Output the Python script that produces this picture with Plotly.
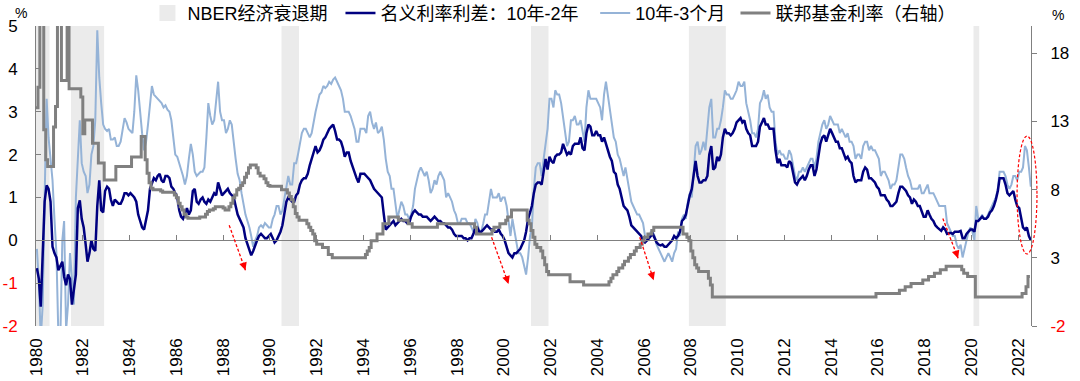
import pandas as pd
import plotly.graph_objects as go

# ---------------- data (monthly, Jan 1980 - Jul 2022) ----------------
start_month = "1980-01-01"
end_month = "2022-07-01"

# 名义利率利差：10年-2年 (%)
spread_10y2y = [
    -0.65, -0.9, -1.55, -0.5, 0.9, 1.28, 1.2, 0.9, -0.15, -0.3, -0.4, -0.7,      # 1980
    -0.6, -0.5, -0.85, -1.05, -0.8, -0.9, -1.5, -1.2, -0.8, 0.75, 0.93, 0.5,      # 1981
    0.3, -0.1, -0.5, -0.3, 0.0, -0.2, -0.25, 0.8, 1.4, 0.7, 0.65, 1.15,           # 1982
    1.25, 1.2, 0.95, 0.8, 0.95, 0.9, 0.85, 0.85, 0.95, 1.1, 1.1, 1.05,            # 1983
    1.1, 1.05, 1.0, 0.9, 0.6, 0.45, 0.3, 0.25, 0.45, 0.7, 1.2, 1.35,              # 1984
    1.45, 1.4, 1.5, 1.55, 1.4, 1.35, 1.5, 1.5, 1.45, 1.25, 1.2, 1.1,              # 1985
    1.0, 0.7, 0.55, 0.5, 0.65, 0.75, 0.6, 0.7, 1.15, 1.2, 0.9, 0.85,              # 1986
    0.95, 1.0, 0.9, 0.85, 0.95, 0.9, 1.0, 1.1, 1.05, 1.35, 1.2, 1.05,             # 1987
    1.1, 1.15, 1.2, 1.1, 1.05, 1.0, 0.8, 0.6, 0.5, 0.4, 0.3, 0.05,                # 1988
    -0.1, -0.2, -0.35, -0.25, -0.1, 0.0, 0.1, 0.15, 0.1, 0.05, 0.05, 0.1,         # 1989
    0.15, 0.05, -0.05, 0.0, 0.1, 0.2, 0.35, 0.6, 0.9, 1.0, 0.95, 0.9,             # 1990
    0.9, 1.05, 1.1, 1.3, 1.4, 1.45, 1.45, 1.55, 1.75, 1.9, 2.1, 2.2,              # 1991
    2.05, 2.1, 2.2, 2.35, 2.4, 2.5, 2.6, 2.65, 2.7, 2.55, 2.35, 2.35,             # 1992
    2.3, 2.15, 1.95, 2.05, 2.05, 1.85, 1.7, 1.6, 1.45, 1.35, 1.55, 1.55,          # 1993
    1.55, 1.5, 1.45, 1.4, 1.3, 1.2, 1.15, 1.1, 1.05, 1.0, 0.6, 0.25,              # 1994
    0.3, 0.35, 0.4, 0.45, 0.35, 0.4, 0.45, 0.5, 0.45, 0.45, 0.4, 0.4,             # 1995
    0.55, 0.65, 0.7, 0.65, 0.6, 0.6, 0.55, 0.55, 0.55, 0.5, 0.45, 0.5,            # 1996
    0.55, 0.5, 0.45, 0.45, 0.4, 0.4, 0.35, 0.3, 0.3, 0.25, 0.15, 0.1,             # 1997
    0.1, 0.1, 0.1, 0.05, 0.05, 0.0, 0.05, 0.05, 0.15, 0.3, 0.3, 0.2,              # 1998
    0.2, 0.25, 0.3, 0.35, 0.3, 0.25, 0.25, 0.2, 0.2, 0.25, 0.15, 0.1,             # 1999
    0.0, -0.15, -0.3, -0.35, -0.4, -0.3, -0.3, -0.25, -0.2, -0.1, 0.0, 0.2,       # 2000
    0.5, 0.65, 0.8, 1.1, 1.3, 1.35, 1.35, 1.3, 1.6, 1.9, 1.65, 1.95,              # 2001
    1.85, 1.8, 1.95, 2.0, 2.0, 2.05, 2.25, 2.1, 2.0, 2.05, 2.0, 2.2,              # 2002
    2.25, 2.25, 2.25, 2.4, 2.15, 2.1, 2.5, 2.7, 2.65, 2.45, 2.45, 2.55,           # 2003
    2.45, 2.45, 2.3, 2.4, 2.25, 2.05, 1.95, 1.85, 1.6, 1.55, 1.3, 1.2,            # 2004
    1.0, 0.8, 0.75, 0.7, 0.55, 0.35, 0.3, 0.25, 0.2, 0.15, 0.1, 0.0,              # 2005
    -0.05, 0.0, 0.05, 0.1, 0.15, 0.05, -0.05, -0.1, -0.12, -0.1, -0.15, -0.15,    # 2006
    -0.1, -0.05, 0.0, 0.1, 0.05, 0.1, 0.2, 0.45, 0.5, 0.6, 0.85, 1.05,            # 2007
    1.2, 1.5, 1.85, 1.5, 1.35, 1.35, 1.4, 1.4, 1.5, 2.0, 2.2, 1.65,               # 2008
    1.7, 1.95, 1.85, 2.0, 2.4, 2.6, 2.5, 2.5, 2.45, 2.5, 2.6, 2.75,               # 2009
    2.8, 2.85, 2.75, 2.8, 2.6, 2.5, 2.45, 2.2, 2.2, 2.2, 2.3, 2.65,               # 2010
    2.75, 2.85, 2.7, 2.7, 2.6, 2.6, 2.6, 2.1, 1.8, 1.9, 1.75, 1.75,               # 2011
    1.75, 1.7, 1.85, 1.8, 1.55, 1.35, 1.3, 1.4, 1.45, 1.5, 1.4, 1.5,              # 2012
    1.65, 1.75, 1.75, 1.5, 1.65, 1.95, 2.25, 2.4, 2.45, 2.3, 2.45, 2.6,           # 2013
    2.5, 2.4, 2.3, 2.3, 2.15, 2.15, 2.0, 1.9, 1.95, 1.85, 1.8, 1.5,               # 2014
    1.35, 1.4, 1.4, 1.4, 1.6, 1.7, 1.65, 1.45, 1.45, 1.4, 1.35, 1.25,             # 2015
    1.2, 1.05, 1.05, 1.05, 0.95, 0.9, 0.8, 0.8, 0.85, 0.9, 1.1, 1.25,             # 2016
    1.25, 1.2, 1.15, 1.05, 1.0, 0.85, 0.95, 0.9, 0.8, 0.8, 0.65, 0.55,            # 2017
    0.55, 0.7, 0.6, 0.5, 0.45, 0.35, 0.3, 0.25, 0.22, 0.3, 0.25, 0.15,            # 2018
    0.17, 0.17, 0.15, 0.2, 0.2, 0.2, 0.22, 0.05, 0.05, 0.15, 0.2, 0.25,           # 2019
    0.25, 0.2, 0.45, 0.45, 0.5, 0.55, 0.5, 0.5, 0.55, 0.65, 0.7, 0.8,             # 2020
    0.95, 1.15, 1.45, 1.45, 1.45, 1.3, 1.1, 1.05, 1.1, 1.15, 0.95, 0.8,           # 2021
    0.75, 0.55, 0.3, 0.25, 0.3, 0.1, 0.0,                                         # 2022
]

# 10年-3个月 (%)
spread_10y3m = [
    -0.2, -1.0, -2.3, -1.5, 1.0, 3.3, 2.4, 1.8, 1.4, 0.5, -0.3, -2.2,             # 1980
    -2.3, 0.0, 0.45, -2.1, -1.5, -0.3, -1.0, -1.5, 1.0, 2.0, 2.8, 1.8,            # 1981
    1.6, 1.5, 1.1, 1.3, 2.0, 2.2, 2.8, 4.9, 3.8, 3.2, 2.7, 2.6,                   # 1982
    2.55, 2.6, 2.35, 2.35, 2.4, 2.2, 2.2, 2.3, 2.6, 2.85, 2.75, 2.6,              # 1983
    2.55, 2.5, 3.0, 3.85, 3.5, 2.9, 2.5, 2.1, 2.3, 2.7, 3.2, 3.6,                 # 1984
    3.4, 3.35, 3.3, 3.25, 3.2, 3.1, 3.15, 3.05, 3.0, 2.8, 2.3, 2.0,               # 1985
    1.95, 1.8, 1.65, 1.5, 1.3, 1.5, 1.9, 2.25, 2.0, 1.6, 1.5, 1.55,               # 1986
    1.6, 1.6, 1.7, 2.4, 3.2, 2.9, 2.7, 2.8, 3.2, 3.7, 3.0, 2.8,                   # 1987
    2.8, 2.5, 2.6, 2.8, 2.7, 2.2, 1.9, 1.55, 1.4, 1.1, 0.8, 0.6,                  # 1988
    0.45, 0.3, 0.1, -0.15, 0.0, 0.1, 0.3, 0.35, 0.3, 0.4, 0.35, 0.3,              # 1989
    0.3, 0.5, 0.6, 0.8, 0.8, 0.6, 0.7, 1.0, 1.3, 1.5, 1.3, 1.3,                   # 1990
    1.8, 1.8, 2.0, 2.3, 2.5, 2.6, 2.6, 2.5, 2.4, 2.5, 2.8, 3.0,                   # 1991
    3.2, 3.4, 3.45, 3.6, 3.55, 3.6, 3.7, 3.65, 3.75, 3.8, 3.7, 3.6,               # 1992
    3.5, 3.3, 3.0, 3.0, 3.0, 2.9, 2.75, 2.6, 2.3, 2.3, 2.6, 2.6,                  # 1993
    2.6, 2.5, 2.9, 3.0, 2.75, 2.6, 2.75, 2.5, 2.55, 2.65, 2.35, 1.9,              # 1994
    1.6, 1.5, 1.2, 1.2, 0.8, 0.5, 0.7, 0.9, 0.8, 0.6, 0.6, 0.5,                   # 1995
    0.6, 0.8, 1.2, 1.4, 1.6, 1.7, 1.6, 1.5, 1.6, 1.4, 1.1, 1.2,                   # 1996
    1.4, 1.3, 1.5, 1.6, 1.5, 1.4, 1.0, 1.1, 1.0, 0.9, 0.7, 0.6,                   # 1997
    0.4, 0.4, 0.5, 0.5, 0.5, 0.4, 0.4, 0.3, 0.2, 0.5, 0.4, 0.2,                   # 1998
    0.2, 0.4, 0.6, 0.6, 0.9, 1.2, 1.0, 1.0, 1.0, 1.1, 0.9, 1.0,                   # 1999
    1.0, 0.8, 0.4, 0.1, 0.5, 0.2, 0.0, -0.3, -0.3, -0.4, -0.6, -0.8,              # 2000
    -0.4, 0.1, 0.3, 1.2, 1.7, 1.8, 1.8, 1.5, 1.9, 2.3, 2.6, 3.3,                  # 2001
    3.3, 3.1, 3.5, 3.4, 3.4, 3.2, 2.9, 2.6, 2.2, 2.3, 2.8, 2.8,                   # 2002
    2.9, 2.7, 2.7, 2.8, 2.5, 2.3, 3.1, 3.5, 3.3, 3.3, 3.3, 3.3,                   # 2003
    3.2, 3.1, 2.8, 3.4, 3.7, 3.4, 3.1, 2.8, 2.4, 2.3, 2.0, 1.9,                   # 2004
    1.7, 1.5, 1.7, 1.4, 1.2, 0.9, 0.8, 0.7, 0.6, 0.6, 0.5, 0.4,                   # 2005
    0.1, 0.0, 0.0, 0.2, 0.2, 0.1, -0.1, -0.2, -0.3, -0.4, -0.5, -0.4,             # 2006
    -0.3, -0.4, -0.5, -0.3, -0.2, 0.2, 0.1, 0.5, 0.6, 0.5, 0.9, 1.1,              # 2007
    1.0, 1.6, 2.2, 2.3, 2.0, 2.1, 2.3, 2.1, 2.7, 3.1, 3.3, 2.4,                   # 2008
    2.4, 2.6, 2.6, 2.8, 3.1, 3.5, 3.4, 3.4, 3.3, 3.3, 3.4, 3.5,                   # 2009
    3.7, 3.6, 3.6, 3.7, 3.2, 3.0, 2.8, 2.5, 2.5, 2.4, 2.6, 3.2,                   # 2010
    3.3, 3.5, 3.3, 3.4, 3.1, 3.0, 3.0, 2.3, 2.0, 2.1, 2.0, 2.0,                   # 2011
    1.9, 1.9, 2.1, 2.0, 1.7, 1.5, 1.4, 1.6, 1.6, 1.7, 1.6, 1.7,                   # 2012
    1.8, 1.9, 1.9, 1.7, 1.9, 2.3, 2.5, 2.7, 2.8, 2.6, 2.7, 2.9,                   # 2013
    2.8, 2.7, 2.7, 2.7, 2.5, 2.6, 2.5, 2.4, 2.5, 2.3, 2.3, 2.2,                   # 2014
    1.9, 2.0, 2.0, 1.9, 2.2, 2.3, 2.3, 2.1, 2.2, 2.1, 2.1, 2.0,                   # 2015
    1.9, 1.5, 1.6, 1.6, 1.5, 1.4, 1.2, 1.3, 1.3, 1.4, 1.7, 2.0,                   # 2016
    2.0, 1.9, 1.7, 1.5, 1.4, 1.2, 1.2, 1.2, 1.2, 1.3, 1.1, 1.1,                   # 2017
    1.2, 1.3, 1.1, 1.1, 1.1, 1.0, 0.9, 0.8, 0.8, 0.8, 0.8, 0.4,                   # 2018
    0.3, 0.2, 0.1, 0.1, -0.1, -0.2, -0.1, -0.4, -0.2, 0.0, 0.2, 0.3,              # 2019
    0.2, 0.0, 0.8, 0.5, 0.5, 0.6, 0.5, 0.5, 0.6, 0.7, 0.8, 0.9,                   # 2020
    1.0, 1.2, 1.6, 1.6, 1.6, 1.5, 1.3, 1.2, 1.3, 1.5, 1.5, 1.4,                   # 2021
    1.6, 1.6, 1.7, 2.2, 2.1, 1.7, 1.25,                                           # 2022
]

# 联邦基金利率 (%, right axis)
fed_funds = [
    14.0, 15.5, 21.0, 21.0, 12.4, 10.2, 9.7, 9.7, 9.7, 12.6, 14.1, 21.0,          # 1980
    21.0, 16.0, 16.0, 16.0, 21.0, 15.4, 15.4, 15.4, 15.4, 15.4, 15.4, 14.8,       # 1981
    12.1, 13.1, 13.1, 13.1, 13.1, 11.4, 11.4, 11.4, 9.95, 9.95, 9.95, 8.7,        # 1982
    8.7, 8.7, 8.7, 8.7, 8.7, 9.7, 9.7, 9.7, 9.7, 9.7, 9.7, 9.7,                   # 1983
    9.7, 10.4, 10.4, 10.4, 10.4, 10.4, 11.9, 11.9, 10.2, 9.2, 8.5, 8.1,           # 1984
    8.0, 8.0, 8.0, 8.0, 7.9, 7.8, 7.8, 7.8, 7.8, 7.8, 7.8, 7.6,                   # 1985
    7.4, 7.0, 6.75, 6.5, 6.2, 6.0, 5.9, 5.9, 5.9, 5.9, 5.9, 5.9,                  # 1986
    6.0, 6.0, 6.0, 6.2, 6.4, 6.5, 6.5, 6.6, 6.75, 6.75, 6.75, 6.75,               # 1987
    6.65, 6.5, 6.5, 6.75, 7.0, 7.4, 7.6, 8.0, 8.1, 8.3, 8.5, 8.9,                 # 1988
    9.2, 9.6, 9.8, 9.8, 9.8, 9.6, 9.2, 9.0, 9.0, 8.8, 8.5, 8.3,                   # 1989
    8.25, 8.25, 8.25, 8.25, 8.25, 8.25, 8.0, 8.0, 8.0, 7.75, 7.5, 7.25,           # 1990
    6.75, 6.25, 6.0, 5.75, 5.75, 5.75, 5.75, 5.5, 5.25, 5.0, 4.75, 4.25,          # 1991
    4.0, 4.0, 4.0, 3.75, 3.75, 3.75, 3.25, 3.25, 3.0, 3.0, 3.0, 3.0,              # 1992
    3.0, 3.0, 3.0, 3.0, 3.0, 3.0, 3.0, 3.0, 3.0, 3.0, 3.0, 3.0,                   # 1993
    3.0, 3.25, 3.5, 3.75, 4.25, 4.25, 4.25, 4.75, 4.75, 4.75, 5.5, 5.5,           # 1994
    5.5, 6.0, 6.0, 6.0, 6.0, 6.0, 5.75, 5.75, 5.75, 5.75, 5.75, 5.5,              # 1995
    5.5, 5.25, 5.25, 5.25, 5.25, 5.25, 5.25, 5.25, 5.25, 5.25, 5.25, 5.25,        # 1996
    5.25, 5.25, 5.5, 5.5, 5.5, 5.5, 5.5, 5.5, 5.5, 5.5, 5.5, 5.5,                 # 1997
    5.5, 5.5, 5.5, 5.5, 5.5, 5.5, 5.5, 5.5, 5.5, 5.25, 4.75, 4.75,                # 1998
    4.75, 4.75, 4.75, 4.75, 4.75, 4.75, 5.0, 5.25, 5.25, 5.25, 5.5, 5.5,          # 1999
    5.5, 5.75, 6.0, 6.0, 6.5, 6.5, 6.5, 6.5, 6.5, 6.5, 6.5, 6.5,                  # 2000
    5.75, 5.5, 5.0, 4.5, 4.0, 3.75, 3.75, 3.5, 3.0, 2.5, 2.0, 1.75,               # 2001
    1.75, 1.75, 1.75, 1.75, 1.75, 1.75, 1.75, 1.75, 1.75, 1.75, 1.25, 1.25,       # 2002
    1.25, 1.25, 1.25, 1.25, 1.25, 1.0, 1.0, 1.0, 1.0, 1.0, 1.0, 1.0,              # 2003
    1.0, 1.0, 1.0, 1.0, 1.0, 1.0, 1.25, 1.5, 1.75, 1.75, 2.0, 2.25,               # 2004
    2.25, 2.5, 2.75, 2.75, 3.0, 3.25, 3.25, 3.5, 3.75, 3.75, 4.0, 4.25,           # 2005
    4.5, 4.5, 4.75, 4.75, 5.0, 5.25, 5.25, 5.25, 5.25, 5.25, 5.25, 5.25,          # 2006
    5.25, 5.25, 5.25, 5.25, 5.25, 5.25, 5.25, 5.25, 4.75, 4.75, 4.5, 4.25,        # 2007
    3.5, 3.0, 2.5, 2.25, 2.0, 2.0, 2.0, 2.0, 2.0, 1.5, 1.0, 0.125,                # 2008
    0.125, 0.125, 0.125, 0.125, 0.125, 0.125, 0.125, 0.125, 0.125, 0.125, 0.125, 0.125,  # 2009
    0.125, 0.125, 0.125, 0.125, 0.125, 0.125, 0.125, 0.125, 0.125, 0.125, 0.125, 0.125,  # 2010
    0.125, 0.125, 0.125, 0.125, 0.125, 0.125, 0.125, 0.125, 0.125, 0.125, 0.125, 0.125,  # 2011
    0.125, 0.125, 0.125, 0.125, 0.125, 0.125, 0.125, 0.125, 0.125, 0.125, 0.125, 0.125,  # 2012
    0.125, 0.125, 0.125, 0.125, 0.125, 0.125, 0.125, 0.125, 0.125, 0.125, 0.125, 0.125,  # 2013
    0.125, 0.125, 0.125, 0.125, 0.125, 0.125, 0.125, 0.125, 0.125, 0.125, 0.125, 0.125,  # 2014
    0.125, 0.125, 0.125, 0.125, 0.125, 0.125, 0.125, 0.125, 0.125, 0.125, 0.125, 0.375,  # 2015
    0.375, 0.375, 0.375, 0.375, 0.375, 0.375, 0.375, 0.375, 0.375, 0.375, 0.375, 0.625,  # 2016
    0.625, 0.625, 0.875, 0.875, 0.875, 1.125, 1.125, 1.125, 1.125, 1.125, 1.125, 1.375,  # 2017
    1.375, 1.375, 1.625, 1.625, 1.625, 1.875, 1.875, 1.875, 2.125, 2.125, 2.125, 2.375,  # 2018
    2.375, 2.375, 2.375, 2.375, 2.375, 2.375, 2.375, 2.125, 1.875, 1.875, 1.625, 1.625,  # 2019
    1.625, 1.625, 0.125, 0.125, 0.125, 0.125, 0.125, 0.125, 0.125, 0.125, 0.125, 0.125,  # 2020
    0.125, 0.125, 0.125, 0.125, 0.125, 0.125, 0.125, 0.125, 0.125, 0.125, 0.125, 0.125,  # 2021
    0.125, 0.125, 0.375, 0.375, 0.875, 1.625, 1.625,                                     # 2022
]

# NBER recessions
recession_start = ["1980-01-01", "1981-07-01", "1990-07-01", "2001-03-01", "2007-12-01", "2020-02-01"]
recession_end = ["1980-07-31", "1982-11-30", "1991-03-31", "2001-11-30", "2009-06-30", "2020-04-30"]

# tick labels
year_ticks = list(range(1980, 2023, 2))
year_labels = [str(y) for y in year_ticks]
left_ticks = [-2, -1, 0, 1, 2, 3, 4, 5]
right_ticks = [-2, 3, 8, 13, 18]

# red arrows (start -> end) and highlight ellipse
arrow_x0 = ["1988-04-05", "1999-06-25", "2005-10-25", "2018-10-10"]
arrow_y0 = [0.35, 0.07, 0.07, 0.51]
arrow_x1 = ["1988-12-15", "2000-03-15", "2006-05-30", "2019-06-05"]
arrow_y1 = [-0.70, -1.02, -0.93, -0.42]

# ---------------- figure ----------------
months = pd.date_range(start_month, end_month, freq="MS")
mid_month = months + pd.Timedelta(days=14)

NAVY = "#000080"
LIGHT = "#95B3D7"
GRAY = "#808080"
SHADE = "#EBEBEB"
RED = "#FF0000"


def red_if_neg(v):
    return f'<span style="color:{RED}">{v}</span>' if v < 0 else str(v)


fig = go.Figure()

for s, e in zip(recession_start, recession_end):
    fig.add_vrect(x0=s, x1=e, fillcolor=SHADE, opacity=1, line_width=0, layer="below")

fig.add_trace(go.Scatter(
    x=[None], y=[None], mode="markers", name="NBER经济衰退期",
    marker=dict(symbol="square", size=16, color=SHADE), legend="legend"))

fig.add_trace(go.Scatter(
    x=mid_month, y=spread_10y3m, mode="lines", name="10年-3个月",
    line=dict(color=LIGHT, width=2), legend="legend3"))

fig.add_trace(go.Scatter(
    x=mid_month, y=spread_10y2y, mode="lines", name="名义利率利差：10年-2年",
    line=dict(color=NAVY, width=2.5), legend="legend2"))

fig.add_trace(go.Scatter(
    x=months, y=fed_funds, mode="lines", name="联邦基金利率（右轴）",
    line=dict(color=GRAY, width=3, shape="hv"), yaxis="y2", legend="legend4"))

# helper trace for the zero-line axis carrying the year tick marks
fig.add_trace(go.Scatter(x=[months[0]], y=[0], xaxis="x2", mode="none",
                         showlegend=False, hoverinfo="skip"))

# arrows
for x0, y0, x1, y1 in zip(arrow_x0, arrow_y0, arrow_x1, arrow_y1):
    fig.add_shape(type="line", xref="x", yref="y", x0=x0, y0=y0, x1=x1, y1=y1,
                  line=dict(color=RED, width=1.3, dash="3px,2px"))
    fig.add_annotation(x=x1, y=y1, xref="x", yref="y", ax=-3, ay=-9, axref="pixel", ayref="pixel",
                       text="", showarrow=True, arrowhead=2, arrowsize=1.2, arrowwidth=1.3,
                       arrowcolor=RED)

fig.add_shape(type="circle", xref="paper", yref="paper", x0=0.986, x1=1.006, y0=0.24, y1=0.633,
              line=dict(color=RED, width=1.2, dash="3px,2px"))

fig.add_annotation(x=-0.015, y=1.043, xref="paper", yref="paper", text="%", showarrow=False,
                   xanchor="center", yanchor="middle", font=dict(size=14))
fig.add_annotation(x=1.027, y=1.037, xref="paper", yref="paper", text="%", showarrow=False,
                   xanchor="center", yanchor="middle", font=dict(size=14))

x_range = ["1980-01-01", "2022-07-18"]
tickvals_x = [f"{y}-01-01" for y in year_ticks]

legend_common = dict(orientation="h", xanchor="left", y=1.042, yanchor="middle",
                     bgcolor="rgba(0,0,0,0)", font=dict(size=18), itemwidth=30)

fig.update_layout(
    width=1080, height=381,
    margin=dict(l=36, r=49, t=26, b=55, autoexpand=False),
    paper_bgcolor="white", plot_bgcolor="white",
    font=dict(family="Liberation Sans, Arial, Noto Sans CJK SC, sans-serif", size=17, color="black"),
    hovermode=False,
    showlegend=True,
    legend=dict(x=0.112, **legend_common),
    legend2=dict(x=0.306, **legend_common),
    legend3=dict(x=0.562, **legend_common),
    legend4=dict(x=0.703, **legend_common),
    xaxis=dict(type="date", range=x_range, tickvals=tickvals_x, ticktext=year_labels,
               tickangle=-90, ticks="", showline=False, showgrid=False, zeroline=False,
               ticklabelstandoff=8),
    xaxis2=dict(type="date", range=x_range, overlaying="x", anchor="free", position=2 / 7,
                tickvals=tickvals_x, ticks="inside", ticklen=5, tickcolor=GRAY,
                showticklabels=False, showline=True, linecolor=GRAY, linewidth=1,
                showgrid=False, zeroline=False),
    yaxis=dict(range=[-2, 5], tickvals=left_ticks, ticktext=[red_if_neg(v) for v in left_ticks],
               ticks="inside", ticklen=5, tickcolor=GRAY, showline=True, linecolor=GRAY,
               showgrid=False, zeroline=False, ticklabelstandoff=14),
    yaxis2=dict(range=[-2, 20], tickvals=right_ticks, ticktext=[red_if_neg(v) for v in right_ticks],
                overlaying="y", side="right", ticks="outside", ticklen=5, tickcolor=GRAY,
                showline=True, linecolor=GRAY, showgrid=False, zeroline=False,
                ticklabelstandoff=10),
)

fig.write_html("out.html", config={"displayModeBar": False, "staticPlot": True},
               post_script="document.body.style.margin='0px';document.body.style.overflow='hidden';")
